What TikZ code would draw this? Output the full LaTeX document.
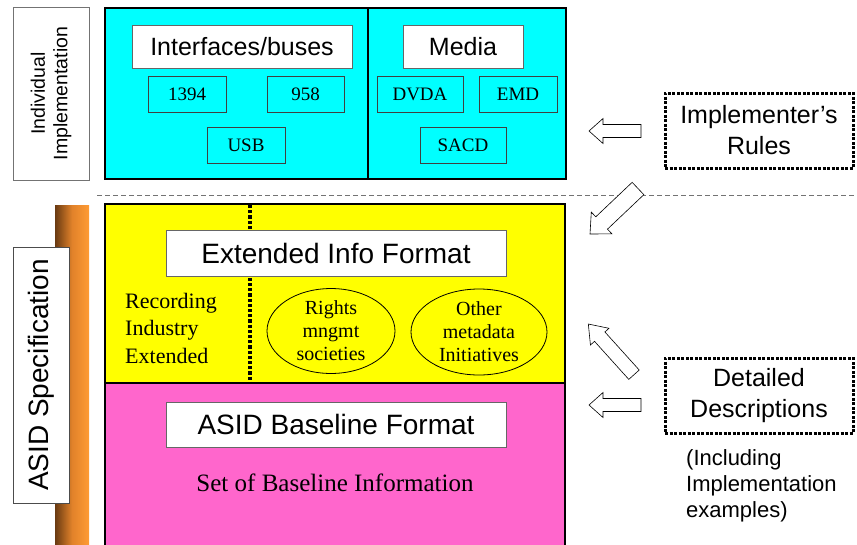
\documentclass[tikz,border=0pt]{standalone}
\usepackage{fontspec}
\setmainfont{Liberation Serif}
\setsansfont{Liberation Sans}
\usetikzlibrary{calc,shapes.geometric}
\definecolor{cyanfill}{RGB}{0,255,255}
\definecolor{yellowfill}{RGB}{255,255,0}
\definecolor{pinkfill}{RGB}{255,102,204}
\definecolor{barL}{RGB}{105,58,18}
\definecolor{barM}{RGB}{225,130,42}
\definecolor{barR}{RGB}{255,155,52}
\newcommand{\blockarrow}[5]{%
  \draw[blockarrowstyle] let \p1=($(#2)-(#1)$), \n1={atan2(\y1,\x1)}, \n2={veclen(\x1,\y1)} in
    [shift={(#1)}, rotate=\n1] (0,-#3) -- ({\n2-#5},-#3) -- ({\n2-#5},-#4) -- (\n2,0)
    -- ({\n2-#5},#4) -- ({\n2-#5},#3) -- (0,#3) -- cycle;}
\tikzset{
  bigframe/.style={draw=black, line width=2.6pt, inner sep=0pt, outer sep=0pt},
  titlebox/.style={draw=black!60, line width=0.8pt, fill=white, inner sep=0pt,
    font=\sffamily\fontsize{25}{28}\selectfont},
  bigtitle/.style={titlebox, font=\sffamily\fontsize{28}{32}\selectfont},
  smallbox/.style={draw=black!75, line width=0.8pt, fill=cyanfill, inner sep=0pt,
    minimum height=36pt, font=\fontsize{19}{22}\selectfont},
  sidebox/.style={draw=black!70, line width=0.8pt, fill=white, inner sep=0pt, rotate=90,
    align=center, font=\sffamily},
  dotbox/.style={draw=black, line width=3pt, dash pattern=on 3pt off 1.5pt, fill=white,
    inner sep=0pt, minimum width=188pt, minimum height=75pt, align=center,
    font=\sffamily\fontsize{25}{31}\selectfont},
  oval/.style={draw=black, line width=0.8pt, ellipse, inner sep=0pt, align=center,
    font=\fontsize{20}{23}\selectfont},
  blockarrowstyle/.style={draw=black, line width=0.6pt, fill=white, line join=miter},
  plaintext/.style={inner sep=0pt, align=left}
}
\begin{document}
\begin{tikzpicture}[x=1pt,y=1pt]
\useasboundingbox (0,0) rectangle (857,-544);
\clip (0,0) rectangle (857,-544);

% left side bar and labels
\shade[left color=barL, right color=barR, middle color=barM] (55,-205) rectangle (89,-560);
\node[sidebox, minimum width=256pt, minimum height=56pt, font=\sffamily\fontsize{28}{32}\selectfont]
  (asidspec) at (41,-375) {ASID Specification};
\node[sidebox, draw=black!55, minimum width=173pt, minimum height=76pt, font=\sffamily\fontsize{19.5}{22.5}\selectfont]
  (indimpl) at (51,-93.5) {Individual\\Implementation};

% top cyan block
\node[bigframe, fill=cyanfill, minimum width=461pt, minimum height=171pt] (top) at (335.5,-93.5) {};
\draw[line width=2.6pt] (368,-8) -- (368,-179);
\node[titlebox, minimum width=220pt, minimum height=43pt] (ifb) at (242,-46.5) {Interfaces/buses};
\node[titlebox, minimum width=120pt, minimum height=43pt] (media) at (463,-46.5) {Media};
\node[smallbox, minimum width=78pt] (b1394) at (187,-94) {1394};
\node[smallbox, minimum width=77pt] (b958) at (305.5,-94) {958};
\node[smallbox, minimum width=86pt] (dvda) at (420,-94) {DVDA};
\node[smallbox, minimum width=78pt] (emd) at (518,-94) {EMD};
\node[smallbox, minimum width=78pt] (usb) at (246,-145) {USB};
\node[smallbox, minimum width=86pt] (sacd) at (463,-145) {SACD};

% separator
\draw[black!55, line width=0.9pt, dash pattern=on 5pt off 3pt] (97,-195) -- (857,-195);

% yellow and pink blocks
\node[bigframe, fill=yellowfill, minimum width=460pt, minimum height=179pt] (ext) at (335,-293.5) {};
\node[bigframe, fill=pinkfill, minimum width=460pt, minimum height=187pt] (base) at (335,-476.5) {};
\draw[line width=3.2pt, dash pattern=on 3.2pt off 2pt] (250,-205) -- (250,-382);
\node[bigtitle, minimum width=340pt, minimum height=46pt] (extinfo) at (336,-253) {Extended Info Format};
\node[plaintext, anchor=north west, font=\fontsize{22}{27.5}\selectfont] (rie) at (125,-293)
  {Recording\\Industry\\Extended};
\node[oval, minimum width=128pt, minimum height=78pt] (rights) at (331,-331) {Rights\\mngmt\\societies};
\node[oval, minimum width=136pt, minimum height=86pt] (other) at (479,-332) {Other\\metadata\\Initiatives};
\node[bigtitle, minimum width=340pt, minimum height=45pt] (asidbase) at (336,-424.5) {ASID Baseline Format};
\node[inner sep=0pt, anchor=base, font=\fontsize{25}{28}\selectfont] (setbase) at (335,-491)
  {Set of Baseline Information};

% right side
\node[dotbox] (rules) at (759,-130.5) {Implementer's\\Rules};
\node[dotbox] (detail) at (759,-395.5) {Detailed\\Descriptions};
\node[plaintext, anchor=north west, font=\sffamily\fontsize{22}{26}\selectfont] (incl) at (686,-449)
  {(Including\\Implementation\\examples)};

\coordinate (a1s) at (641,-131);   \coordinate (a1e) at (589,-131);
\coordinate (a2s) at (638,-188.5); \coordinate (a2e) at (590,-234);
\coordinate (a3s) at (634,-374.7); \coordinate (a3e) at (588.3,-324);
\coordinate (a4s) at (641,-405);   \coordinate (a4e) at (589,-405);
\blockarrow{a1s}{a1e}{6.5}{12.5}{14}
\blockarrow{a2s}{a2e}{8.5}{15}{16}
\blockarrow{a3s}{a3e}{7}{12.5}{17}
\blockarrow{a4s}{a4e}{6.5}{12.5}{14}
\end{tikzpicture}
\end{document}
